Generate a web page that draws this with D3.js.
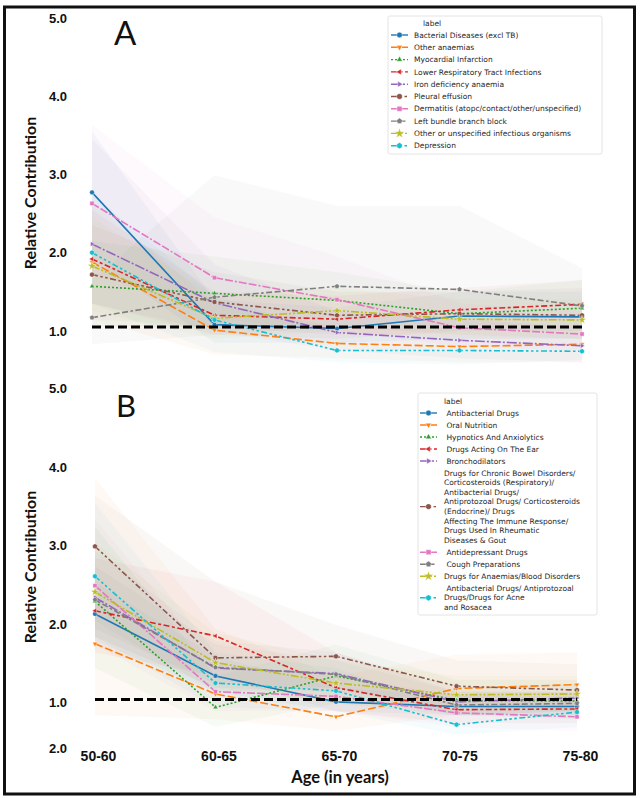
<!DOCTYPE html>
<html>
<head>
<meta charset="utf-8">
<script src="https://cdn.jsdelivr.net/npm/d3@7"></script>
<style>
  body { margin: 0; background: #fff; }
  svg { display: block; font-family: Lato, "Open Sans", sans-serif; }
  .ytick text { font-weight: bold; font-size: 13px; fill: #111; }
  .xtick text { font-weight: bold; font-size: 14px; fill: #111; }
  .legend text { font-family: "DejaVu Sans", sans-serif; font-size: 7.5px; fill: #262626; white-space: pre; }
</style>
</head>
<body>
<div id="chart"></div>
<script>
// ---- data ----
const ageGroups = ["50-60", "60-65", "65-70", "70-75", "75-80"];

const labelsA = [
  "Bacterial Diseases (excl TB)",
  "Other anaemias",
  "Myocardial Infarction",
  "Lower Respiratory Tract Infections",
  "Iron deficiency anaemia",
  "Pleural effusion",
  "Dermatitis (atopc/contact/other/unspecified)",
  "Left bundle branch block",
  "Other or unspecified infectious organisms",
  "Depression",
];
const meanA = [
  [2.72, 1.03, 0.98, 1.14, 1.13],
  [1.83, 0.96, 0.79, 0.75, 0.78],
  [1.52, 1.43, 1.34, 1.17, 1.24],
  [1.87, 1.15, 1.10, 1.22, 1.29],
  [2.06, 1.31, 0.93, 0.83, 0.76],
  [1.67, 1.32, 1.15, 1.17, 1.15],
  [2.58, 1.63, 1.35, 0.99, 0.91],
  [1.12, 1.38, 1.52, 1.48, 1.27],
  [1.78, 1.11, 1.21, 1.10, 1.09],
  [1.95, 1.09, 0.70, 0.70, 0.69],
];
const lowA = [
  [1.90, 0.80, 0.80, 0.85, 0.85],
  [1.10, 0.65, 0.60, 0.55, 0.55],
  [1.00, 1.00, 1.00, 0.90, 0.90],
  [1.30, 0.90, 0.85, 0.95, 1.00],
  [1.30, 0.95, 0.70, 0.60, 0.55],
  [1.10, 1.00, 0.90, 0.90, 0.85],
  [1.70, 1.10, 0.95, 0.75, 0.70],
  [0.78, 0.90, 1.00, 0.95, 0.95],
  [1.20, 0.85, 0.95, 0.85, 0.85],
  [1.30, 0.68, 0.55, 0.52, 0.58],
];
const highA = [
  [3.50, 1.35, 1.25, 1.45, 1.45],
  [2.60, 1.30, 1.00, 0.95, 1.00],
  [2.10, 1.90, 1.70, 1.45, 1.60],
  [2.50, 1.45, 1.40, 1.50, 1.60],
  [3.40, 1.80, 1.20, 1.10, 1.00],
  [2.30, 1.70, 1.45, 1.45, 1.50],
  [3.58, 2.40, 1.90, 1.30, 1.20],
  [1.60, 2.94, 2.55, 2.55, 1.75],
  [2.40, 1.40, 1.50, 1.35, 1.35],
  [2.70, 1.40, 0.90, 0.90, 0.90],
];

const labelsB = [
  " Antibacterial Drugs",
  " Oral Nutrition",
  " Hypnotics And Anxiolytics",
  " Drugs Acting On The Ear",
  " Bronchodilators",
  "Drugs for Chronic Bowel Disorders/\nCorticosteroids (Respiratory)/\nAntibacterial Drugs/\nAntiprotozoal Drugs/ Corticosteroids\n(Endocrine)/ Drugs\nAffecting The Immune Response/\nDrugs Used In Rheumatic\nDiseases & Gout",
  " Antidepressant Drugs",
  " Cough Preparations",
  "Drugs for Anaemias/Blood Disorders",
  " Antibacterial Drugs/ Antiprotozoal\nDrugs/Drugs for Acne\nand Rosacea",
];
const meanB = [
  [2.09, 1.30, 0.97, 0.91, 0.91],
  [1.71, 1.07, 0.78, 1.14, 1.19],
  [2.25, 0.90, 1.30, 0.99, 0.98],
  [2.13, 1.81, 1.15, 0.87, 0.88],
  [2.30, 1.40, 1.33, 0.97, 1.02],
  [2.95, 1.53, 1.55, 1.17, 1.12],
  [2.45, 1.10, 1.04, 0.83, 0.78],
  [2.27, 1.41, 1.32, 0.93, 0.95],
  [2.37, 1.47, 1.21, 1.06, 1.07],
  [2.57, 1.21, 1.11, 0.68, 0.84],
];
const lowB = [
  [1.75, 1.10, 0.85, 0.80, 0.80],
  [0.80, 0.75, 0.60, 0.80, 0.85],
  [1.40, 0.65, 0.95, 0.80, 0.75],
  [1.60, 1.30, 0.85, 0.70, 0.70],
  [1.80, 1.15, 1.10, 0.80, 0.85],
  [2.00, 1.10, 1.15, 0.90, 0.85],
  [1.70, 0.85, 0.85, 0.65, 0.60],
  [1.90, 1.20, 1.15, 0.80, 0.80],
  [1.80, 1.15, 0.95, 0.85, 0.85],
  [1.80, 0.90, 0.85, 0.55, 0.65],
];
const highB = [
  [2.50, 1.55, 1.15, 1.05, 1.05],
  [3.82, 1.90, 1.30, 1.57, 1.60],
  [3.20, 1.30, 1.70, 1.25, 1.25],
  [2.80, 2.50, 1.60, 1.10, 1.10],
  [2.90, 1.75, 1.60, 1.15, 1.20],
  [3.60, 2.50, 1.95, 1.50, 1.45],
  [3.30, 1.45, 1.30, 1.05, 1.00],
  [2.70, 1.70, 1.50, 1.10, 1.10],
  [3.00, 1.85, 1.50, 1.30, 1.30],
  [3.50, 1.60, 1.40, 0.85, 1.05],
];

const yTickValues = [5, 4, 3, 2, 1];
const yTickText = ["5.0", "4.0", "3.0", "2.0", "1.0"];
const yTickValuesB = [5, 4, 3, 2, 1, 0.42];
const yTickTextB = ["5.0", "4.0", "3.0", "2.0", "1.0", "2.0"];

// ---- styles ----
const colors = d3.schemeCategory10;
// seaborn default dash specs (x2 for line width / scale)
const dashes = [
  [], [4, 1.5], [1, 1], [3, 1.25, 1.5, 1.25], [5, 1, 1, 1],
  [3, 1.25, 1.25, 1.25, 1.25, 1.25], [4, 1, 4, 1, 1, 1],
  [3, 1.25, 3, 1.25, 1.25, 1.25], [4, 1, 1, 1, 1, 1],
  [3, 1.25, 1.25, 1.25, 1.25, 1.25, 1.25, 1.25],
].map((d) => d.map((v) => v * 2).join(","));

function polygon(n, r, rot) {
  const pts = d3.range(n).map((i) => {
    const a = rot + (i * 2 * Math.PI) / n;
    return [r * Math.cos(a), r * Math.sin(a)];
  });
  return "M" + pts.map((p) => p.join(",")).join("L") + "Z";
}

// matplotlib filled markers: o v ^ < > 8 s p * h
function markerPath(i, r) {
  const s = [
    () => d3.symbol(d3.symbolCircle, Math.PI * r * r)(),
    () => polygon(3, r * 1.2, Math.PI / 2),
    () => polygon(3, r * 1.2, -Math.PI / 2),
    () => polygon(3, r * 1.2, Math.PI),
    () => polygon(3, r * 1.2, 0),
    () => polygon(8, r * 1.05, Math.PI / 8),
    () => polygon(4, r * 1.25, Math.PI / 4),
    () => polygon(5, r * 1.1, -Math.PI / 2),
    () => d3.symbol(d3.symbolStar, r * r * 4)(),
    () => polygon(6, r * 1.1, -Math.PI / 2),
  ];
  return s[i]();
}

const width = 640;
const height = 798;

const svg = d3
  .select("#chart")
  .append("svg")
  .attr("width", width)
  .attr("height", height);

svg.append("rect").attr("width", width).attr("height", height).attr("fill", "#fff");

// outer frame
svg
  .append("rect")
  .attr("x", 4.5)
  .attr("y", 7)
  .attr("width", 630)
  .attr("height", 787)
  .attr("fill", "none")
  .attr("stroke", "#111")
  .attr("stroke-width", 3);

const panels = [
  {
    letter: "A",
    labels: labelsA,
    mean: meanA,
    low: lowA,
    high: highA,
    xRange: [92, 582],
    y1: 327,
    unit: 78.25,
    ticks: yTickValues,
    tickText: yTickText,
    tickShift: 4,
    letterPos: [114, 45, 33],
    titleY: 193,
    legend: { x: 388, y: 16, w: 214, h: 138, titleX: 423, titleY: 23, firstY: 35, handle: [391, 408], textX: 414, step: 12.3, lineStep: 9.6 },
  },
  {
    letter: "B",
    labels: labelsB,
    mean: meanB,
    low: lowB,
    high: highB,
    xRange: [95, 577],
    y1: 699.5,
    unit: 78.5,
    ticks: yTickValuesB,
    tickText: yTickTextB,
    tickShift: 3,
    letterPos: [116, 417, 31],
    titleY: 567,
    legend: { x: 418, y: 393, w: 179, h: 222, titleX: 444, titleY: 401, firstY: 413, handle: [420, 437], textX: 444, step: 12, lineStep: 9.6 },
  },
];

panels.forEach((p) => {
  const g = svg.append("g");
  const x = d3.scalePoint().domain(ageGroups).range(p.xRange);
  const y = d3
    .scaleLinear()
    .domain([1, 5])
    .range([p.y1, p.y1 - 4 * p.unit]);

  // confidence bands (very faint)
  p.mean.forEach((m, i) => {
    const area = d3
      .area()
      .x((d, j) => x(ageGroups[j]))
      .y0((d, j) => y(p.low[i][j]))
      .y1((d, j) => y(p.high[i][j]));
    g.append("path")
      .attr("d", area(m))
      .attr("fill", colors[i])
      .attr("fill-opacity", 0.045);
  });

  // series lines + markers
  p.mean.forEach((m, i) => {
    const line = d3
      .line()
      .x((d, j) => x(ageGroups[j]))
      .y((d) => y(d));
    g.append("path")
      .attr("d", line(m))
      .attr("fill", "none")
      .attr("stroke", colors[i])
      .attr("stroke-width", 1.6)
      .attr("stroke-dasharray", dashes[i]);
    g.selectAll(null)
      .data(m)
      .join("path")
      .attr("transform", (d, j) => `translate(${x(ageGroups[j])},${y(d)})`)
      .attr("d", markerPath(i, 2.4))
      .attr("fill", colors[i])
      .attr("stroke", "#fff")
      .attr("stroke-width", 0.4);
  });

  // reference line at 1.0
  g.append("line")
    .attr("x1", p.xRange[0])
    .attr("x2", p.xRange[1])
    .attr("y1", y(1))
    .attr("y2", y(1))
    .attr("stroke", "#000")
    .attr("stroke-width", 3)
    .attr("stroke-dasharray", "9,4");

  // y axis labels
  const ax = g
    .append("g")
    .attr("class", "ytick")
    .attr("transform", `translate(67,${p.tickShift})`)
    .call(
      d3
        .axisLeft(y)
        .tickValues(p.ticks)
        .tickFormat((d, i) => p.tickText[i])
        .tickSize(0)
        .tickPadding(0),
    );
  ax.select(".domain").remove();

  // y title
  g.append("text")
    .attr("transform", `translate(29,${p.titleY}) rotate(-90)`)
    .attr("text-anchor", "middle")
    .attr("dominant-baseline", "central")
    .attr("font-size", 16)
    .attr("font-weight", "bold")
    .attr("fill", "#111")
    .text("Relative Contribution");

  // panel letter
  g.append("text")
    .attr("x", p.letterPos[0])
    .attr("y", p.letterPos[1])
    .attr("font-size", p.letterPos[2])
    .attr("fill", "#111")
    .text(p.letter);

  // legend
  const L = p.legend;
  const lg = g.append("g").attr("class", "legend");
  lg.append("rect")
    .attr("x", L.x)
    .attr("y", L.y)
    .attr("width", L.w)
    .attr("height", L.h)
    .attr("rx", 2)
    .attr("fill", "#fff")
    .attr("fill-opacity", 0.9)
    .attr("stroke", "#ddd")
    .attr("stroke-width", 0.8);
  lg.append("text")
    .attr("x", L.titleX)
    .attr("y", L.titleY)
    .attr("dy", "0.35em")
    .text("label");

  let cy = L.firstY;
  p.labels.forEach((lab, i) => {
    const lines = lab.split("\n");
    const mid = cy + ((lines.length - 1) * L.lineStep) / 2;
    lg.append("line")
      .attr("x1", L.handle[0])
      .attr("x2", L.handle[1])
      .attr("y1", mid)
      .attr("y2", mid)
      .attr("stroke", colors[i])
      .attr("stroke-width", 1.4)
      .attr("stroke-dasharray", dashes[i]);
    lg.append("path")
      .attr("transform", `translate(${(L.handle[0] + L.handle[1]) / 2},${mid})`)
      .attr("d", markerPath(i, 2.8))
      .attr("fill", colors[i])
      .attr("stroke", "#fff")
      .attr("stroke-width", 0.4);
    const t = lg.append("text").attr("x", L.textX).attr("y", cy);
    lines.forEach((ln, k) => {
      t.append("tspan")
        .attr("x", L.textX)
        .attr("dy", k === 0 ? "0.35em" : L.lineStep)
        .text(ln);
    });
    cy += L.step + (lines.length - 1) * L.lineStep;
  });

  // x axis labels only under the bottom panel
  if (p.letter === "B") {
    const xa = g
      .append("g")
      .attr("class", "xtick")
      .attr("transform", "translate(3,751)")
      .call(d3.axisBottom(x).tickSize(0).tickPadding(0));
    xa.select(".domain").remove();
    g.append("text")
      .attr("x", 340)
      .attr("y", 783)
      .attr("text-anchor", "middle")
      .attr("font-size", 16.5)
      .attr("font-weight", "bold")
      .attr("fill", "#111")
      .text("Age (in years)");
  }
});
</script>
</body>
</html>
